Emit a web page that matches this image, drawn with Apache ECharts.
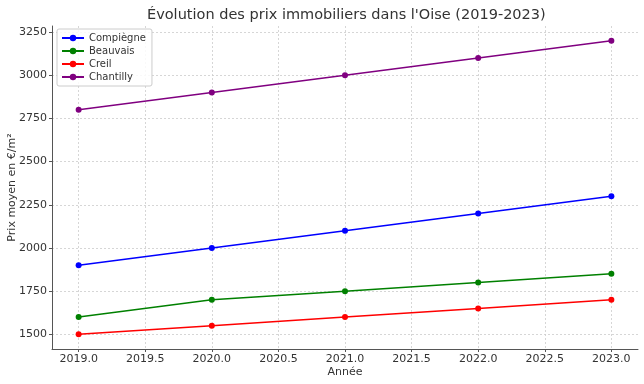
<!DOCTYPE html>
<html><head><meta charset="utf-8">
<script src="https://cdn.jsdelivr.net/npm/echarts@6/dist/echarts.min.js"></script>
<style>html,body{margin:0;padding:0;background:#fff}#c{width:644px;height:384px}</style>
</head><body><div id="c"></div>
<script>
const years = [2019, 2020, 2021, 2022, 2023];
const xTicks = [2019.0, 2019.5, 2020.0, 2020.5, 2021.0, 2021.5, 2022.0, 2022.5, 2023.0];
const yTicks = [1500, 1750, 2000, 2250, 2500, 2750, 3000, 3250];
const compiegne = [1900, 2000, 2100, 2200, 2300];
const beauvais = [1600, 1700, 1750, 1800, 1850];
const creil = [1500, 1550, 1600, 1650, 1700];
const chantilly = [2800, 2900, 3000, 3100, 3200];
const seriesDefs = [
  ['Compiègne', compiegne, '#0000ff'],
  ['Beauvais', beauvais, '#008000'],
  ['Creil', creil, '#ff0000'],
  ['Chantilly', chantilly, '#800080']
];
const font = 'DejaVu Sans';
const chart = echarts.init(document.getElementById('c'), null, {renderer: 'canvas'});
chart.setOption({
  animation: false,
  backgroundColor: '#fff',
  textStyle: {fontFamily: font},
  title: {text: "Évolution des prix immobiliers dans l'Oise (2019-2023)", left: 147, top: 8, padding: 0,
    textStyle: {fontFamily: font, fontSize: 14.5, fontWeight: 'normal', color: '#333'}},
  legend: {orient: 'vertical', left: 57, top: 29, padding: [4, 6, 4, 4], itemGap: 3,
    itemWidth: 22, itemHeight: 8, borderColor: '#ccc', borderWidth: 1, borderRadius: 2,
    backgroundColor: 'rgba(255,255,255,0.85)',
    textStyle: {fontFamily: font, fontSize: 10, color: '#333'}},
  grid: {left: 52, right: 6, top: 26, bottom: 35, containLabel: false, outerBoundsMode: 'none'},
  xAxis: {type: 'value', min: 2018.8, max: 2023.2, name: 'Année', nameLocation: 'middle', nameGap: 18,
    nameMoveOverlap: false,
    nameTextStyle: {fontFamily: font, fontSize: 11, color: '#333'},
    axisLine: {show: true, onZero: false, lineStyle: {color: '#555', width: 1}},
    axisTick: {show: true, customValues: xTicks, length: 3, lineStyle: {color: '#555'}},
    axisLabel: {customValues: xTicks, formatter: v => v.toFixed(1), fontFamily: font, fontSize: 11, color: '#333', margin: 5},
    splitLine: {show: true, lineStyle: {color: '#ccc', type: [2, 2], width: 0.8}}},
  yAxis: {type: 'value', min: 1415, max: 3285, name: 'Prix moyen en €/m²', nameLocation: 'middle', nameGap: 34,
    nameMoveOverlap: false,
    nameTextStyle: {fontFamily: font, fontSize: 11, color: '#333'},
    axisLine: {show: true, lineStyle: {color: '#555', width: 1}},
    axisTick: {show: true, customValues: yTicks, length: 3, lineStyle: {color: '#555'}},
    axisLabel: {customValues: yTicks, formatter: v => String(v), fontFamily: font, fontSize: 11, color: '#333', margin: 5},
    splitLine: {show: true, lineStyle: {color: '#ccc', type: [2, 2], width: 0.8}}},
  series: seriesDefs.map(([name, vals, color]) => ({
    name, type: 'line', data: years.map((y, i) => [y, vals[i]]),
    symbol: 'circle', symbolSize: 6, color,
    lineStyle: {width: 1.5, color}, itemStyle: {color}
  }))
});
</script></body></html>
